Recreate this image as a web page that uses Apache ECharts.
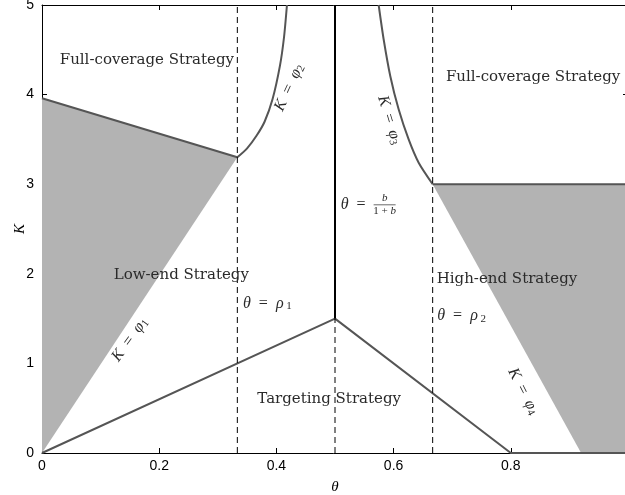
<!DOCTYPE html>
<html>
<head>
<meta charset="utf-8">
<script src="https://cdn.jsdelivr.net/npm/echarts@6/dist/echarts.min.js"></script>
<style>html,body{margin:0;padding:0;background:#fff}#c{width:625px;height:495px}</style>
</head>
<body>
<div id="c"></div>
<script>
// ---- data ----
var xTicks = [0, 0.2, 0.4, 0.6, 0.8];
var yTicks = [0, 1, 2, 3, 4, 5];
var leftShade = [[0, 0], [0, 3.96], [1/3, 3.3]];
var rightShade = [[2/3, 3.0], [1, 3.0], [1, 0], [0.92, 0]];
var upperLeftLine = [[0, 3.96], [1/3, 3.3]];
var phi2Curve = [[1/3, 3.3], [0.35, 3.40], [0.366, 3.54], [0.38, 3.70], [0.3935, 3.95], [0.406, 4.32], [0.413, 4.64], [0.418, 5.0]];
var phi3Curve = [[0.5745, 5.0], [0.583, 4.618], [0.5943, 4.208], [0.6086, 3.836], [0.6257, 3.5], [0.6428, 3.24], [2/3, 3.0]];
var upperRightLine = [[2/3, 3.0], [1, 3.0]];
var lowerLine = [[0, 0], [0.5, 1.5], [0.8, 0], [1, 0]];
var midSolid = [[0.5, 1.5], [0.5, 5]];
var dashRho1 = [[1/3, 0], [1/3, 5]];
var dashMid = [[0.5, 0], [0.5, 1.5]];
var dashRho2 = [[2/3, 0], [2/3, 5]];
var regionLabels = [
  {text: 'Full-coverage Strategy', at: [0.179, 4.39]},
  {text: 'Full-coverage Strategy', at: [0.838, 4.19]},
  {text: 'Low-end Strategy', at: [0.2377, 1.98]},
  {text: 'High-end Strategy', at: [0.7935, 1.944]},
  {text: 'Targeting Strategy', at: [0.49, 0.603]}
];
var curveLabels = [
  {sub: '1', at: [0.15, 1.266], rot: 54},
  {sub: '2', at: [0.4218, 4.08], rot: 65},
  {sub: '3', at: [0.5926, 3.716], rot: -73},
  {sub: '4', at: [0.821, 0.688], rot: -63}
];
var rhoLabels = [
  {sub: '1', at: [0.343, 1.668]},
  {sub: '2', at: [0.6745, 1.526]}
];
var fracLabelAt = [0.5096, 2.77];

var chart = echarts.init(document.getElementById('c'), null, {renderer: 'canvas'});
var LINE = '#555555';
var GRAY = '#b3b3b3';
var TXT = '#2a2a2a';

function polySeries(pts) {
  return {
    type: 'custom',
    silent: true,
    z: 1,
    renderItem: function (params, api) {
      if (params.dataIndex !== 0) return;
      var p = pts.map(function (d) { return api.coord(d); });
      return {type: 'polygon', shape: {points: p}, style: {fill: GRAY, stroke: null}};
    },
    data: [0],
    clip: true
  };
}
function lineSeries(pts, color, width, dashed, smooth) {
  return {
    type: 'line',
    data: pts,
    symbol: 'none',
    smooth: smooth || false,
    silent: true,
    z: 3,
    lineStyle: {color: color, width: width, type: dashed ? [6, 4] : 'solid'},
    clip: true
  };
}

var mathFont = 'Liberation Serif';
var textFont = 'DejaVu Serif';

function axisCommon() {
  return {
    axisLine: {show: true, onZero: false, lineStyle: {color: '#000', width: 1}},
    axisTick: {show: true, inside: true, length: 5, lineStyle: {color: '#000'}},
    splitLine: {show: false}
  };
}

var option = {
  animation: false,
  backgroundColor: '#ffffff',
  grid: {left: 42, right: -3, top: 5, bottom: 42, containLabel: false, outerBoundsMode: 'none'},
  xAxis: [Object.assign(axisCommon(), {
    type: 'value', min: 0, max: 1, interval: 0.2, position: 'bottom',
    axisLabel: {color: '#000', fontFamily: 'Liberation Sans', fontSize: 14, margin: 6,
      formatter: function (v) { var i = xTicks.indexOf(Math.round(v * 10) / 10); return i >= 0 ? String(xTicks[i]) : ''; }},
    name: 'θ', nameLocation: 'middle', nameGap: 27,
    nameTextStyle: {fontFamily: mathFont, fontStyle: 'italic', fontSize: 15, color: '#000'}
  }), Object.assign(axisCommon(), {
    type: 'value', min: 0, max: 1, interval: 0.2, position: 'top',
    axisLabel: {show: false}
  })],
  yAxis: [Object.assign(axisCommon(), {
    type: 'value', min: 0, max: 5, interval: 1, position: 'left',
    axisLabel: {color: '#000', fontFamily: 'Liberation Sans', fontSize: 14, margin: 8,
      formatter: function (v) { return yTicks.indexOf(Math.round(v)) >= 0 ? String(Math.round(v)) : ''; }},
    name: 'K', nameLocation: 'middle', nameGap: 14, nameRotate: 90, nameMoveOverlap: false,
    nameTextStyle: {fontFamily: mathFont, fontStyle: 'italic', fontSize: 15, color: '#000'}
  }), Object.assign(axisCommon(), {
    type: 'value', min: 0, max: 5, interval: 1, position: 'right',
    axisLabel: {show: false}
  })],
  series: [
    polySeries(leftShade),
    polySeries(rightShade),
    lineSeries(upperLeftLine, LINE, 2),
    lineSeries(phi2Curve, LINE, 2, false, 0.25),
    lineSeries(phi3Curve, LINE, 2, false, 0.25),
    lineSeries(upperRightLine, LINE, 2),
    lineSeries(lowerLine, LINE, 2),
    lineSeries(midSolid, '#000', 2),
    lineSeries(dashRho1, '#000', 1, true),
    lineSeries(dashMid, '#000', 1, true),
    lineSeries(dashRho2, '#000', 1, true)
  ]
};
chart.setOption(option);

function px(p) { return chart.convertToPixel({xAxisIndex: 0, yAxisIndex: 0}, p); }
var g = [];
regionLabels.forEach(function (l) {
  var p = px(l.at);
  g.push({type: 'text', x: p[0], y: p[1], z: 10,
    style: {text: l.text, fill: TXT, font: '15px "' + textFont + '"', align: 'center', verticalAlign: 'middle'}});
});
var mathRich = {
  i: {fontFamily: mathFont, fontStyle: 'italic', fontSize: 16, fill: TXT},
  n: {fontFamily: mathFont, fontSize: 16, fill: TXT},
  s: {fontFamily: mathFont, fontSize: 11, fill: TXT, padding: [6, 0, 0, 0]}
};
curveLabels.forEach(function (l) {
  var p = px(l.at);
  g.push({type: 'text', x: p[0], y: p[1], rotation: l.rot * Math.PI / 180, z: 10,
    style: {text: '{i|K}{n|  =  }{i|φ}{s|' + l.sub + '}', rich: mathRich, align: 'center', verticalAlign: 'middle'}});
});
rhoLabels.forEach(function (l) {
  var p = px(l.at);
  g.push({type: 'text', x: p[0], y: p[1], z: 10,
    style: {text: '{i|θ}{n|  =  }{i|ρ}{s| ' + l.sub + '}', rich: mathRich, align: 'left', verticalAlign: 'middle'}});
});
(function () {
  var p = px(fracLabelAt);
  g.push({type: 'text', x: p[0], y: p[1], z: 10,
    style: {text: '{i|θ}{n|  =}', rich: mathRich, align: 'left', verticalAlign: 'middle'}});
  var fx = p[0] + 44;
  g.push({type: 'text', x: fx, y: p[1] - 1, z: 10,
    style: {text: 'b', fill: TXT, font: 'italic 11px "' + mathFont + '"', align: 'center', verticalAlign: 'bottom'}});
  g.push({type: 'line', z: 10, shape: {x1: fx - 11, y1: p[1], x2: fx + 11, y2: p[1]}, style: {stroke: TXT, lineWidth: 0.7}});
  g.push({type: 'text', x: fx, y: p[1] + 1, z: 10,
    style: {text: '{n|1 + }{i|b}', rich: {n: {fontFamily: mathFont, fontSize: 11, fill: TXT}, i: {fontFamily: mathFont, fontStyle: 'italic', fontSize: 11, fill: TXT}}, align: 'center', verticalAlign: 'top'}});
})();
chart.setOption({graphic: g});
</script>
</body>
</html>
